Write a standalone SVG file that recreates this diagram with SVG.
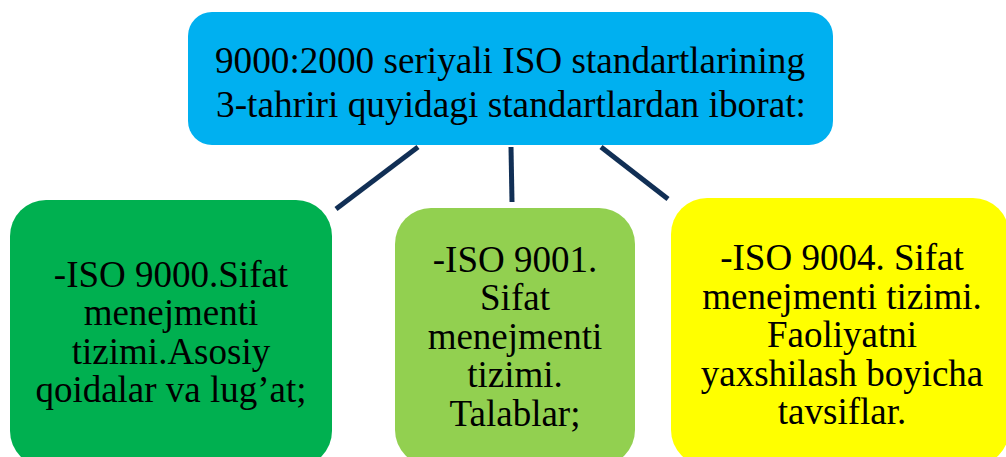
<svg xmlns="http://www.w3.org/2000/svg" width="1006" height="457" viewBox="0 0 1006 457">
  <style>
    .t { font-family: "Liberation Serif", "Times New Roman", serif; font-size: 37px; fill: #000; text-anchor: middle; }
    .conn { stroke: #112F55; stroke-width: 5; fill: none; }
  </style>
  <rect x="0" y="0" width="1006" height="457" fill="#fff"/>
  <g id="connectors">
    <line class="conn" x1="418" y1="147" x2="336" y2="209"/>
    <line class="conn" x1="511" y1="147" x2="512" y2="202"/>
    <line class="conn" x1="601" y1="147" x2="668" y2="199"/>
  </g>
  <g id="node-top">
    <rect x="188" y="12" width="645" height="133" rx="24" fill="#00B0F0"/>
    <text class="t" x="510" y="73" font-size="39" textLength="590" lengthAdjust="spacingAndGlyphs">9000:2000 seriyali ISO standartlarining</text>
    <text class="t" x="511" y="117" font-size="39" textLength="590" lengthAdjust="spacingAndGlyphs">3-tahriri quyidagi standartlardan iborat:</text>
  </g>
  <g id="node-9000">
    <rect x="10" y="200" width="322" height="267" rx="36" fill="#00B050"/>
    <text class="t" x="171" y="287">-ISO 9000.Sifat</text>
    <text class="t" x="171" y="325">menejmenti</text>
    <text class="t" x="171" y="364">tizimi.Asosiy</text>
    <text class="t" x="171" y="402">qoidalar va lug’at;</text>
  </g>
  <g id="node-9001">
    <rect x="395" y="208" width="240" height="258" rx="36" fill="#92D050"/>
    <text class="t" x="515" y="272">-ISO 9001.</text>
    <text class="t" x="515" y="310">Sifat</text>
    <text class="t" x="515" y="349">menejmenti</text>
    <text class="t" x="515" y="387">tizimi.</text>
    <text class="t" x="515" y="426">Talablar;</text>
  </g>
  <g id="node-9004">
    <rect x="671" y="198" width="338" height="268" rx="36" fill="#FFFF00"/>
    <text class="t" x="842" y="270">-ISO 9004. Sifat</text>
    <text class="t" x="842" y="309">menejmenti tizimi.</text>
    <text class="t" x="842" y="347">Faoliyatni</text>
    <text class="t" x="842" y="386">yaxshilash boyicha</text>
    <text class="t" x="842" y="424">tavsiflar.</text>
  </g>
</svg>
